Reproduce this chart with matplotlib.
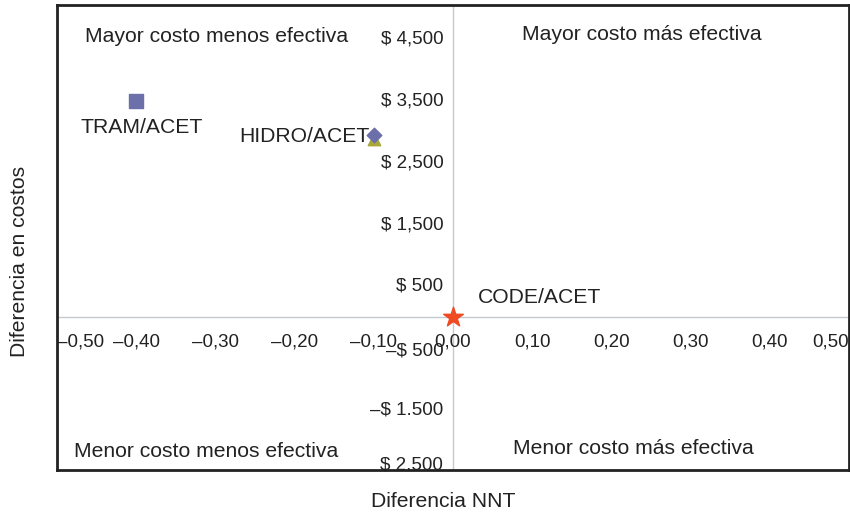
import matplotlib.pyplot as plt

plt.rcParams['font.family'] = ['Liberation Sans', 'DejaVu Sans']

# comparisons (diff NNT, diff cost)
names = ["TRAM/ACET", "HIDRO/ACET", "CODE/ACET"]
nnt_diff = [-0.40, -0.10, 0.00]
cost_diff = [3500, 2950, 0]

xticks = [-0.5, -0.4, -0.3, -0.2, -0.1, 0.0, 0.1, 0.2, 0.3, 0.4, 0.5]
xticklabels = ["\u20130,50", "\u20130,40", "\u20130,30", "\u20130,20", "\u20130,10", "0,00",
               "0,10", "0,20", "0,30", "0,40", "0,50"]
yticks = [4500, 3500, 2500, 1500, 500, -500, -1500, -2500]
yticklabels = ["$ 4,500", "$ 3,500", "$ 2,500", "$ 1,500", "$ 500",
               "\u2013$ 500", "\u2013$ 1.500", "$ 2.500"]

quadrants = [("Mayor costo menos efectiva", -0.298, 4550),
             ("Mayor costo más efectiva", 0.238, 4580),
             ("Menor costo menos efectiva", -0.312, -2170),
             ("Menor costo más efectiva", 0.228, -2120)]

fig = plt.figure(figsize=(8.5, 5.12), dpi=100)
ax = fig.add_axes([0.067, 0.082, 0.932, 0.908])
ax.set_xlim(-0.5, 0.5)
ax.set_ylim(-2470, 5050)
ax.set_xticks([])
ax.set_yticks([])
for s in ax.spines.values():
    s.set_linewidth(2)
    s.set_color("#222222")

ax.axhline(0, color="#c3cbd0", lw=1, zorder=1)
ax.axvline(0, color="#c3cbd0", lw=1, zorder=1)

# tick labels along the zero lines
for i, (x, lab) in enumerate(zip(xticks, xticklabels)):
    ha = "center"
    if i == 0:
        ha = "left"
    elif i == len(xticks) - 1:
        ha = "right"
    ax.annotate(lab, (x, 0), xytext=(0, -12), textcoords="offset points",
                ha=ha, va="top", fontsize=13.5, color="#222222")
for i, (y, lab) in enumerate(zip(yticks, yticklabels)):
    va = "center"
    dy = 0
    if i == len(yticks) - 1:
        va = "bottom"
        dy = -1
    elif y == -500:
        dy = -2
    ax.annotate(lab, (0, y), xytext=(-7, dy), textcoords="offset points",
                ha="right", va=va, fontsize=13.5, color="#222222",
                annotation_clip=False)

for txt, x, y in quadrants:
    ax.text(x, y, txt, ha="center", va="center", fontsize=15.2, color="#222222")

# markers
ax.scatter(nnt_diff[0], cost_diff[0], marker="s", s=110, color="#6b70ab", zorder=3)
ax.scatter(nnt_diff[1], cost_diff[1] - 60, marker="^", s=80, color="#a8a83a", zorder=3)
ax.scatter(nnt_diff[1], cost_diff[1], marker="D", s=55, color="#6b70ab", zorder=4)
ax.scatter(nnt_diff[2], cost_diff[2], marker="*", s=220, color="#f04a23", zorder=4)

ax.annotate(names[0], (nnt_diff[0], cost_diff[0]), xytext=(4, -19), textcoords="offset points",
            ha="center", va="center", fontsize=15.2, color="#222222")
ax.annotate(names[1], (nnt_diff[1], cost_diff[1]), xytext=(-3, -1), textcoords="offset points",
            ha="right", va="center", fontsize=15.2, color="#222222")
ax.annotate(names[2], (nnt_diff[2], cost_diff[2]), xytext=(18, 14), textcoords="offset points",
            ha="left", va="center", fontsize=15.2, color="#222222")

fig.text(0.521, 0.02, "Diferencia NNT", ha="center", va="center", fontsize=15.2, color="#222222")
fig.text(0.023, 0.49, "Diferencia en costos", ha="center", va="center", rotation=90,
         fontsize=15.2, color="#222222")

fig.savefig("out.png", dpi=100)
